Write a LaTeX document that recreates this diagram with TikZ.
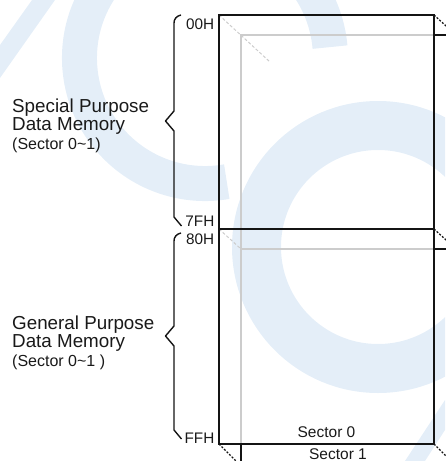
\documentclass[tikz,border=0pt]{standalone}
\usepackage{fontspec}
\setmainfont{Liberation Sans}
\definecolor{wmblue}{RGB}{228,238,248}
\definecolor{linec}{RGB}{20,20,20}
\definecolor{greyc}{RGB}{204,204,204}
\definecolor{dgrey}{RGB}{204,204,204}
\definecolor{txt}{RGB}{25,25,25}
\begin{document}
\begin{tikzpicture}[x=1pt,y=-1pt,
  wm/.style={draw=wmblue},
  front/.style={draw=linec, line width=1.5pt},
  backgrey/.style={draw=greyc, line width=1.2pt},
  backblk/.style={draw=linec, line width=1.5pt},
  dashblk/.style={draw=linec, line width=1.3pt, dash pattern=on 2pt off 1.6pt},
  dashgrey/.style={draw=dgrey, line width=1pt, dash pattern=on 3pt off 2pt},
  brc/.style={draw=linec, line width=1.4pt, line join=round},
  lbl/.style={inner sep=0pt, text=txt, font=\fontsize{18.8}{19}\selectfont, anchor=base west},
  sublbl/.style={inner sep=0pt, text=txt, font=\fontsize{16}{17}\selectfont, anchor=base west},
  addr/.style={inner sep=0pt, text=txt, font=\fontsize{15.3}{16}\selectfont, anchor=base east},
  sect/.style={inner sep=0pt, text=txt, font=\fontsize{15.5}{16}\selectfont, anchor=base},
]
\useasboundingbox (0,0) rectangle (445,461);
% watermark
\begin{scope}
\clip (0,0) rectangle (445,461);
\fill[wmblue] (0,45) -- (32,0) -- (55,0) -- (0,78) -- cycle;
\draw[wm, line width=35pt] (330,47.1) arc[start angle=-5, end angle=-280, radius=125.5];
\draw[wm, line width=49pt] (378,247) circle[radius=121.5];
\fill[wmblue] (405,461) -- (445,400) -- (445,430) -- (425,461) -- cycle;
\end{scope}
% coordinates
\coordinate (f00) at (219,15);
\coordinate (f01) at (434,15);
\coordinate (fm0) at (219,229);
\coordinate (fm1) at (434,229);
\coordinate (fb0) at (219,444);
\coordinate (fb1) at (434,444);
\coordinate (b00) at (241,35);
\coordinate (bt) at (434,35);
\coordinate (b01) at (456,35);
\coordinate (bm0) at (241,249);
\coordinate (bmr) at (434,249);
\coordinate (bm1) at (456,249);
\coordinate (bl) at (241,444);
\coordinate (bb0) at (241,466);
\coordinate (bb1) at (456,466);
\coordinate (dtl) at (270,62);
% back (sector 1)
\draw[backgrey] (bl) -- (b00) -- (bt);
\draw[backgrey] (bm0) -- (bmr);
\draw[backblk] (bt) -- (b01);
\draw[backblk] (bmr) -- (bm1);
\draw[backblk] (bl) -- (bb0);
% depth lines
\draw[dashgrey] (f00) -- (dtl);
\draw[dashgrey] (fm0) -- (bm0);
\draw[dashblk] (f01) -- (b01);
\draw[dashblk] (fm1) -- (bm1);
\draw[dashblk] (fb1) -- (bb1);
\draw[dashblk] (fb0) -- (bb0);
% front (sector 0)
\draw[front] (f00) rectangle (fb1);
\draw[front] (fm0) -- (fm1);
% braces
\draw[brc] (181,15) .. controls (176.5,16) and (174,19) .. (174,23) -- (174,111) -- (165.5,121) -- (174,131) -- (174,217) -- (181.5,226);
\draw[brc] (181,233) .. controls (176.5,234) and (174,237) .. (174,241) -- (174,326) -- (165.5,336) -- (174,346) -- (174,430) -- (181.5,439);
% labels
\node[lbl] (sp1) at (12,112.3) {Special Purpose};
\node[lbl] (sp2) at (12,130.7) {Data Memory};
\node[sublbl] (sp3) at (12,149.5) {(Sector 0\textasciitilde1)};
\node[lbl] (gp1) at (12,329) {General Purpose};
\node[lbl] (gp2) at (12,347.7) {Data Memory};
\node[sublbl] (gp3) at (12,366) {(Sector 0\textasciitilde1 )};
\node[addr] (a00) at (214.5,29.3) {00H};
\node[addr] (a7f) at (214.5,226) {7FH};
\node[addr] (a80) at (214.5,244) {80H};
\node[addr] (aff) at (214.5,443) {FFH};
\node[sect] (s0) at (326.5,437.5) {Sector 0};
\node[sect] (s1) at (338,459.3) {Sector 1};
\end{tikzpicture}
\end{document}
